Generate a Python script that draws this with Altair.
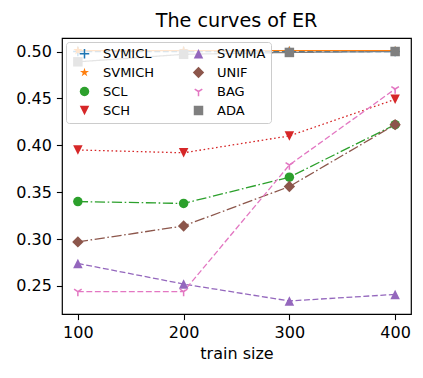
import altair as alt
import pandas as pd

train_size = [100, 200, 300, 400]
series_names = ["SVMICL", "SVMICH", "SCL", "SCH", "SVMMA", "UNIF", "BAG", "ADA"]
SVMICL = [0.500, 0.500, 0.500, 0.500]
SVMICH = [0.501, 0.501, 0.501, 0.501]
SCL = [0.340, 0.338, 0.366, 0.422]
SCH = [0.395, 0.392, 0.410, 0.449]
SVMMA = [0.274, 0.252, 0.234, 0.241]
UNIF = [0.297, 0.314, 0.356, 0.422]
BAG = [0.244, 0.244, 0.379, 0.460]
ADA = [0.489, 0.497, 0.499, 0.500]
y_ticks = [0.25, 0.30, 0.35, 0.40, 0.45, 0.50]
x_ticks = [100, 200, 300, 400]

values = dict(zip(series_names, [SVMICL, SVMICH, SCL, SCH, SVMMA, UNIF, BAG, ADA]))
rows = []
for i, name in enumerate(series_names):
    for x, y in zip(train_size, values[name]):
        rows.append({"series": name, "order": i, "train size": x, "ER": y})
df = pd.DataFrame(rows)

colors = {"SVMICL": "#1f77b4", "SVMICH": "#ff7f0e", "SCL": "#2ca02c", "SCH": "#d62728",
          "SVMMA": "#9467bd", "UNIF": "#8c564b", "BAG": "#e377c2", "ADA": "#7f7f7f"}
star = ("M0,-1L0.2245,-0.309L0.951,-0.309L0.363,0.118L0.588,0.809L0,0.382"
        "L-0.588,0.809L-0.363,0.118L-0.951,-0.309L-0.2245,-0.309Z")
plus = ("M-1,-0.16L-0.16,-0.16L-0.16,-1L0.16,-1L0.16,-0.16L1,-0.16L1,0.16"
        "L0.16,0.16L0.16,1L-0.16,1L-0.16,0.16L-1,0.16Z")
tri_down = ("M-0.16,0L-0.16,1L0.16,1L0.16,0Z"
            "M0.085,0.136L0.885,-0.364L0.715,-0.636L-0.085,-0.136Z"
            "M0.085,-0.136L-0.715,-0.636L-0.885,-0.364L-0.085,0.136Z")
shapes = {"SVMICL": plus, "SVMICH": star, "SCL": "circle",
          "SCH": "M0,1L1,-1L-1,-1Z", "SVMMA": "M0,-1L1,1L-1,1Z",
          "UNIF": "M-1.2,0L0,-1.2L1.2,0L0,1.2Z",
          "BAG": tri_down, "ADA": "square"}
dashes = {"SVMICL": [5.9, 2.6], "SVMICH": [1, 0], "SCL": [10.2, 2.6, 1.6, 2.6], "SCH": [1.6, 2.6],
          "SVMMA": [5.9, 2.6], "UNIF": [10.2, 2.6, 1.6, 2.6], "BAG": [5.9, 2.6], "ADA": [1, 0]}

# Vega fills the 2-column legend column by column, like matplotlib
legend_order = series_names
col_range = [colors[s] for s in legend_order]

xscale = alt.Scale(domain=[85, 415], nice=False, zero=False)
yscale = alt.Scale(domain=[0.2201, 0.5144], nice=False, zero=False)

x_enc = alt.X("train size:Q", scale=xscale,
              axis=alt.Axis(values=x_ticks, title="train size", format="d"))
y_enc = alt.Y("ER:Q", scale=yscale,
              axis=alt.Axis(values=y_ticks, title=None, format=".2f"))

lines = alt.Chart(df).mark_line(strokeWidth=1.3).encode(
    x=x_enc, y=y_enc,
    color=alt.Color("series:N", scale=alt.Scale(domain=legend_order, range=col_range), legend=None),
    strokeDash=alt.StrokeDash("series:N", scale=alt.Scale(domain=legend_order,
                              range=[dashes[s] for s in legend_order]), legend=None),
    detail="series:N",
    order="train size:Q",
)

legend = alt.Legend(title=None, orient="top-left", columns=2, offset=4,
                    fillColor="rgba(255,255,255,0.8)", strokeColor="#cccccc",
                    cornerRadius=3, padding=5, columnPadding=30, rowPadding=5,
                    labelFontSize=13, labelFont="DejaVu Sans", labelColor="black",
                    labelOffset=12, symbolSize=90, symbolOffset=7)

points = alt.Chart(df).mark_point(filled=True, size=90, opacity=1).encode(
    x=x_enc, y=y_enc,
    color=alt.Color("series:N", scale=alt.Scale(domain=legend_order, range=col_range), legend=legend),
    shape=alt.Shape("series:N", scale=alt.Scale(domain=legend_order,
                    range=[shapes[s] for s in legend_order]), legend=legend),
)

chart = alt.layer(lines, points).resolve_scale(
    color="independent", strokeDash="independent", shape="independent"
).properties(
    width=407, height=362,
    autosize=alt.AutoSizeParams(type="fit", contains="padding"),
    title=alt.TitleParams("The curves of ER", font="DejaVu Sans", fontSize=19.2,
                          fontWeight="normal", color="black", offset=7),
    padding={"left": 7, "top": 3, "right": 4, "bottom": 8},
).configure_view(stroke="black", strokeWidth=1.2).configure_axis(
    grid=False, domainColor="black", tickColor="black", labelColor="black",
    labelFont="DejaVu Sans", labelFontSize=16, tickSize=5.6, labelPadding=5,
    titleFont="DejaVu Sans", titleFontSize=16, titleFontWeight="normal",
    titleColor="black", titlePadding=5, domain=False, tickWidth=1.1,
)

chart.save("out.html", embed_options={"renderer": "svg", "actions": False})
